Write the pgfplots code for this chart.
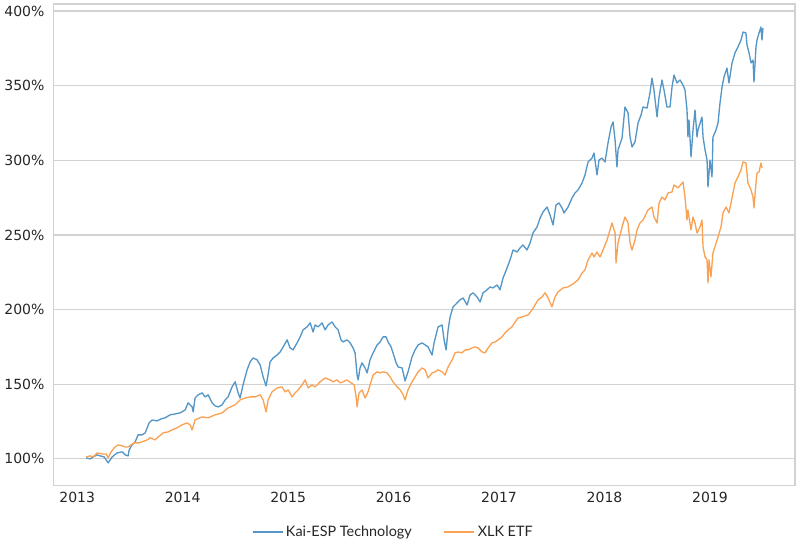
\documentclass[border=0pt]{standalone}
\usepackage{fontspec}
\setmainfont{DejaVu Sans}
\newfontfamily\lato{Lato}
\usepackage{pgfplots}
\pgfplotsset{compat=1.18}

\definecolor{kaiblue}{RGB}{84,150,198}
\definecolor{xlkorange}{RGB}{249,162,84}
\definecolor{gridgray}{RGB}{210,210,210}

% Kai-ESP Technology, cumulative value in %
\pgfplotstableread{
x y
2013.085 100.7
2013.123 100.0
2013.152 101.3
2013.190 102.7
2013.218 102.0
2013.256 101.3
2013.294 97.3
2013.332 101.3
2013.379 104.0
2013.427 104.7
2013.455 102.7
2013.483 102.0
2013.493 106.0
2013.521 109.4
2013.550 111.4
2013.578 116.1
2013.616 116.1
2013.645 117.4
2013.664 120.8
2013.682 124.1
2013.711 126.1
2013.758 125.4
2013.796 126.8
2013.834 127.5
2013.882 129.5
2013.929 130.1
2013.976 130.8
2014.024 132.8
2014.052 137.5
2014.090 134.8
2014.100 131.5
2014.118 140.8
2014.147 142.9
2014.185 144.2
2014.213 141.5
2014.242 142.9
2014.280 137.5
2014.308 135.5
2014.336 134.8
2014.374 136.2
2014.403 139.5
2014.431 141.5
2014.469 148.2
2014.498 151.6
2014.526 144.2
2014.545 140.8
2014.573 149.6
2014.611 159.6
2014.640 165.0
2014.668 167.6
2014.706 166.3
2014.735 162.9
2014.763 154.9
2014.791 148.9
2014.810 156.2
2014.829 165.0
2014.858 167.6
2014.896 169.6
2014.924 171.6
2014.953 175.0
2014.991 179.7
2015.019 174.3
2015.047 173.0
2015.085 177.7
2015.114 181.7
2015.142 186.4
2015.180 188.4
2015.209 191.1
2015.237 185.0
2015.256 189.7
2015.284 188.4
2015.322 191.1
2015.351 186.4
2015.379 189.7
2015.417 191.7
2015.446 188.4
2015.474 186.4
2015.502 179.7
2015.521 178.3
2015.559 179.7
2015.588 177.7
2015.616 174.3
2015.635 171.0
2015.654 156.2
2015.664 152.9
2015.682 160.9
2015.701 164.3
2015.730 160.9
2015.749 157.6
2015.777 166.3
2015.806 171.0
2015.844 176.3
2015.872 178.3
2015.900 181.7
2015.929 181.7
2015.948 178.3
2015.976 175.0
2015.995 171.0
2016.024 164.3
2016.043 161.6
2016.081 160.9
2016.109 152.2
2016.137 158.3
2016.175 168.3
2016.204 173.0
2016.232 176.3
2016.270 177.7
2016.299 176.3
2016.327 175.0
2016.365 169.6
2016.384 177.7
2016.422 188.4
2016.460 189.7
2016.479 179.7
2016.498 173.0
2016.517 186.4
2016.536 195.1
2016.564 201.8
2016.602 204.5
2016.630 206.5
2016.659 207.8
2016.697 203.1
2016.725 209.8
2016.754 211.2
2016.791 208.5
2016.820 205.1
2016.848 211.2
2016.886 213.2
2016.915 215.2
2016.943 214.5
2016.981 216.5
2017.009 213.2
2017.038 221.2
2017.076 227.9
2017.104 233.3
2017.133 239.9
2017.171 238.6
2017.199 241.3
2017.227 243.3
2017.265 239.9
2017.294 244.6
2017.322 251.3
2017.360 255.3
2017.389 261.4
2017.417 265.4
2017.455 268.7
2017.483 263.4
2017.512 256.7
2017.540 270.1
2017.569 271.4
2017.597 268.1
2017.616 264.7
2017.654 268.7
2017.692 274.8
2017.720 278.1
2017.749 280.1
2017.787 284.8
2017.815 290.2
2017.844 298.9
2017.882 301.5
2017.900 304.9
2017.929 290.2
2017.948 300.2
2017.976 301.5
2018.005 298.9
2018.033 311.6
2018.062 322.3
2018.081 325.7
2018.100 313.6
2018.118 295.5
2018.128 306.9
2018.166 314.9
2018.194 335.7
2018.223 331.7
2018.242 315.6
2018.261 308.9
2018.289 312.3
2018.318 325.0
2018.346 330.3
2018.365 335.7
2018.403 335.0
2018.431 345.1
2018.450 355.1
2018.469 347.1
2018.498 329.0
2018.517 342.4
2018.545 353.8
2018.564 347.1
2018.592 335.7
2018.621 335.7
2018.640 349.1
2018.659 357.1
2018.687 351.8
2018.716 353.8
2018.744 350.4
2018.763 347.1
2018.782 333.7
2018.791 315.6
2018.801 327.0
2018.820 302.2
2018.839 320.3
2018.858 333.7
2018.877 315.6
2018.886 320.3
2018.924 329.0
2018.934 315.6
2018.953 306.9
2018.972 300.2
2018.981 282.1
2019.000 300.2
2019.019 288.8
2019.028 315.6
2019.057 320.3
2019.076 325.0
2019.095 338.4
2019.114 349.1
2019.133 355.8
2019.161 361.8
2019.180 351.8
2019.209 365.2
2019.237 371.9
2019.265 375.9
2019.294 380.6
2019.313 385.9
2019.341 385.3
2019.351 377.2
2019.370 371.9
2019.389 365.2
2019.408 367.2
2019.417 352.4
2019.436 375.9
2019.446 380.6
2019.465 385.3
2019.483 389.3
2019.493 380.6
2019.502 388.6
}\kaidata

% XLK ETF, cumulative value in %
\pgfplotstableread{
x y
2013.085 101.3
2013.123 102.0
2013.152 101.3
2013.190 104.0
2013.237 103.3
2013.275 103.3
2013.294 100.7
2013.322 104.7
2013.351 107.4
2013.389 109.4
2013.427 108.7
2013.455 108.0
2013.483 108.0
2013.512 109.4
2013.540 110.7
2013.578 110.7
2013.616 111.4
2013.664 112.7
2013.692 114.1
2013.739 112.7
2013.768 114.7
2013.815 117.4
2013.863 118.1
2013.900 119.4
2013.948 120.8
2013.995 122.8
2014.043 124.1
2014.071 122.8
2014.090 119.4
2014.118 126.1
2014.185 128.1
2014.242 127.5
2014.308 129.5
2014.374 130.8
2014.431 134.1
2014.498 136.2
2014.545 139.5
2014.592 140.8
2014.640 141.5
2014.687 141.5
2014.735 142.9
2014.763 139.5
2014.791 131.5
2014.810 139.5
2014.848 144.9
2014.896 147.5
2014.943 148.2
2014.972 144.9
2015.000 146.2
2015.038 141.5
2015.066 144.2
2015.095 146.2
2015.133 149.6
2015.161 152.9
2015.190 147.5
2015.227 149.6
2015.256 148.2
2015.303 151.6
2015.351 154.2
2015.398 152.9
2015.427 151.6
2015.464 152.9
2015.493 150.9
2015.521 151.6
2015.559 152.9
2015.597 150.9
2015.626 149.6
2015.645 141.5
2015.654 134.8
2015.673 144.2
2015.701 146.2
2015.730 140.8
2015.758 144.9
2015.777 149.6
2015.806 156.2
2015.844 158.3
2015.872 157.6
2015.900 158.3
2015.938 157.6
2015.967 154.9
2015.995 151.6
2016.033 148.2
2016.062 146.2
2016.090 142.9
2016.109 139.5
2016.137 146.2
2016.175 151.6
2016.204 154.9
2016.232 158.3
2016.270 160.9
2016.299 159.6
2016.327 154.2
2016.365 157.6
2016.393 158.3
2016.422 159.6
2016.460 158.3
2016.488 156.2
2016.517 161.6
2016.555 166.3
2016.583 171.0
2016.611 171.6
2016.649 171.0
2016.678 173.0
2016.706 173.0
2016.744 174.3
2016.773 175.0
2016.801 174.3
2016.839 171.6
2016.867 171.0
2016.896 174.3
2016.934 177.7
2016.962 178.3
2016.991 179.7
2017.028 181.7
2017.057 184.4
2017.085 186.4
2017.123 188.4
2017.152 191.7
2017.180 194.4
2017.218 195.1
2017.246 195.8
2017.275 196.4
2017.313 199.8
2017.341 203.1
2017.370 206.5
2017.408 208.5
2017.436 211.2
2017.465 207.8
2017.502 201.8
2017.531 208.5
2017.559 211.8
2017.607 214.5
2017.654 215.2
2017.701 217.2
2017.749 219.9
2017.787 224.5
2017.815 226.6
2017.844 233.3
2017.882 237.9
2017.900 235.3
2017.929 238.6
2017.957 235.3
2017.986 239.9
2018.024 246.6
2018.052 253.3
2018.071 258.0
2018.100 251.3
2018.109 231.2
2018.128 244.6
2018.166 255.3
2018.194 262.0
2018.223 258.0
2018.242 244.6
2018.261 239.9
2018.289 246.6
2018.308 253.3
2018.336 258.0
2018.365 260.0
2018.412 266.7
2018.450 268.7
2018.469 262.0
2018.498 258.0
2018.517 271.4
2018.545 275.4
2018.573 273.4
2018.602 278.1
2018.640 278.8
2018.659 283.5
2018.697 281.5
2018.744 285.5
2018.763 275.4
2018.782 260.0
2018.791 266.7
2018.820 253.3
2018.839 262.0
2018.858 258.0
2018.877 251.3
2018.905 255.3
2018.924 260.0
2018.934 242.0
2018.953 235.3
2018.972 233.3
2018.981 217.8
2018.991 233.3
2019.009 221.9
2019.028 237.9
2019.047 242.0
2019.076 248.7
2019.104 255.3
2019.123 264.7
2019.152 268.7
2019.180 264.7
2019.218 278.1
2019.237 284.8
2019.265 288.8
2019.294 293.5
2019.313 298.9
2019.341 298.2
2019.360 284.8
2019.389 280.1
2019.408 275.4
2019.417 268.1
2019.436 284.8
2019.446 291.5
2019.465 292.2
2019.483 298.2
2019.493 294.9
}\xlkdata

\begin{document}
\begin{tikzpicture}
\begin{axis}[
    scale only axis,
    width=556.5pt, height=361.5pt,
    xmin=2012.7725, xmax=2019.806,
    ymin=81.9, ymax=404.7,
    xtick={2013,2014,2015,2016,2017,2018,2019},
    ytick={100,150,200,250,300,350,400},
    yticklabel={\pgfmathprintnumber{\tick}\%},
    /pgf/number format/1000 sep={},
    /pgf/number format/assume math mode=true,
    tick label style={font=\fontsize{10.5}{12}\selectfont, text=black!85},
    yticklabel style={xshift=-3pt},
    xticklabel style={yshift=-1pt},
    major tick length=0pt,
    axis line style={gridgray, line width=0.9pt},
    ymajorgrids,
    grid style={gridgray, line width=0.9pt},
    legend columns=2,
    legend style={at={(0.459,-0.0954)}, anchor=center, draw=none,
                  font=\lato\fontsize{10.8}{12}\selectfont, text=black!85,
                  /tikz/every even column/.append style={column sep=22pt}},
    legend image code/.code={\draw[#1] (0pt,0pt) -- (22.5pt,0pt);},
    every axis plot/.append style={line width=1pt, line join=round},
]
\addplot[kaiblue, mark=none] table[x=x, y=y] {\kaidata};
\addplot[xlkorange, mark=none] table[x=x, y=y] {\xlkdata};
\legend{Kai-ESP Technology, XLK ETF}
\end{axis}
\path (current axis.south west) ++(-39.75pt,-49.5pt) rectangle ++(600pt,414pt);
\end{tikzpicture}
\end{document}
